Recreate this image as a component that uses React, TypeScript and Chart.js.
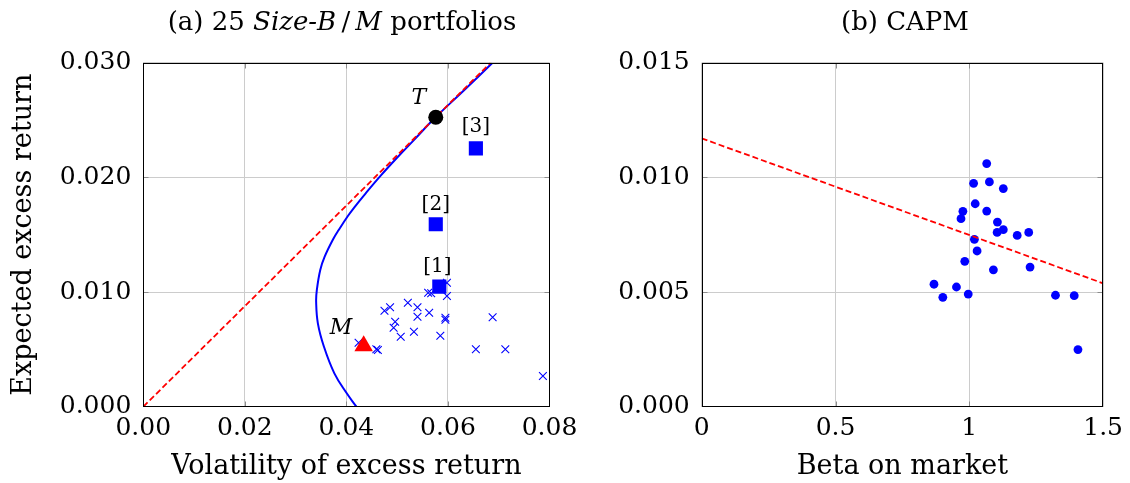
import React, { useEffect, useRef } from 'react';
import { Chart, registerables } from 'chart.js';

Chart.register(...registerables);

const FONT = '"DejaVu Serif", serif';

// ---------- Panel (a): 25 Size-B/M portfolios ----------
const portfolioVol = [0.0561, 0.0567, 0.0598, 0.0598, 0.0475, 0.0486, 0.0521, 0.0540, 0.0563, 0.0540, 0.0595, 0.0595, 0.0688, 0.0496, 0.0493, 0.0533, 0.0507, 0.0585, 0.0424, 0.0459, 0.0462, 0.0655, 0.0713, 0.0787, 0.0583];
const portfolioRet = [0.00994, 0.00989, 0.01081, 0.00965, 0.00837, 0.00867, 0.00907, 0.00867, 0.00820, 0.00785, 0.00776, 0.00759, 0.00780, 0.00741, 0.00689, 0.00654, 0.00610, 0.00619, 0.00558, 0.00501, 0.00494, 0.00501, 0.00501, 0.00268, 0.01047];

const highlightVol = [0.0583, 0.0576, 0.0655];
const highlightRet = [0.01047, 0.01591, 0.02253];
const highlightLabels = ['[1]', '[2]', '[3]'];

const tangencyVol = [0.0576];
const tangencyRet = [0.02524];
const tangencyLabel = 'T';

const marketVol = [0.0434];
const marketRet = [0.0053];
const marketLabel = 'M';

const frontierVol = [0.04197, 0.04007, 0.03763, 0.03558, 0.03438, 0.03404, 0.03418, 0.03485, 0.03572, 0.03749, 0.03848, 0.04029, 0.04153, 0.04380, 0.04684, 0.04997, 0.05324, 0.05756, 0.06312, 0.06868];
const frontierRet = [0.0, 0.00117, 0.00291, 0.00523, 0.00727, 0.00916, 0.01018, 0.01192, 0.01308, 0.01469, 0.01541, 0.01663, 0.01737, 0.01861, 0.02019, 0.02171, 0.02323, 0.02524, 0.02757, 0.02995];

const cmlVol = [0, 0.0684];
const cmlRet = [0, 0.030];

const volTicks = [0, 0.02, 0.04, 0.06, 0.08];
const volTickLabels = ['0.00', '0.02', '0.04', '0.06', '0.08'];
const retTicks = [0, 0.01, 0.02, 0.03];
const retTickLabels = ['0.000', '0.010', '0.020', '0.030'];

// ---------- Panel (b): CAPM ----------
const betaValues = [1.065, 1.016, 1.075, 1.127, 1.022, 1.065, 0.976, 0.969, 1.105, 1.104, 1.127, 1.179, 1.222, 1.019, 1.029, 0.983, 1.090, 1.227, 0.868, 0.952, 0.901, 0.996, 1.322, 1.392, 1.406];
const meanRet = [0.01060, 0.00974, 0.00980, 0.00951, 0.00885, 0.00853, 0.00852, 0.00820, 0.00805, 0.00760, 0.00772, 0.00747, 0.00760, 0.00730, 0.00679, 0.00634, 0.00597, 0.00609, 0.00534, 0.00522, 0.00477, 0.00491, 0.00486, 0.00484, 0.00249];

const smlBeta = [0, 1.5];
const smlRet = [0.0117, 0.00538];

const betaTicks = [0, 0.5, 1, 1.5];
const betaTickLabels = ['0', '0.5', '1', '1.5'];
const capmRetTicks = [0, 0.005, 0.01, 0.015];
const capmRetTickLabels = ['0.000', '0.005', '0.010', '0.015'];

const titleA = 'Volatility of excess return';
const titleY = 'Expected excess return';
const titleB = 'Beta on market';

// ---------- helpers ----------
const pts = (xs: number[], ys: number[]) => xs.map((x, i) => ({ x, y: ys[i] }));

function labelFor(ticks: number[], labels: string[]) {
  return (v: number) => {
    let best = 0;
    for (let i = 1; i < ticks.length; i++) {
      if (Math.abs(ticks[i] - v) < Math.abs(ticks[best] - v)) best = i;
    }
    return labels[best];
  };
}

function makeScale(
  min: number,
  max: number,
  ticks: number[],
  labels: string[],
  fixed: { width?: number; height?: number },
  tickPadding: number,
  title?: string,
  titlePadding?: { top: number; bottom: number }
) {
  const fmt = labelFor(ticks, labels);
  return {
    type: 'linear',
    min,
    max,
    afterBuildTicks: (s: any) => {
      s.ticks = ticks.map((v) => ({ value: v }));
    },
    afterFit: (s: any) => {
      if (fixed.width != null) s.width = fixed.width;
      if (fixed.height != null) s.height = fixed.height;
    },
    ticks: {
      callback: (v: number) => fmt(v),
      font: { family: FONT, size: 25 },
      color: '#000',
      padding: tickPadding,
      autoSkip: false,
      maxRotation: 0,
      minRotation: 0,
    },
    grid: { color: '#cccccc', lineWidth: 1, drawTicks: false },
    border: { display: false },
    title: title
      ? {
          display: true,
          text: title,
          font: { family: FONT, size: 27, lineHeight: 1.2 },
          color: '#000',
          padding: titlePadding || { top: 0, bottom: 0 },
        }
      : { display: false },
  };
}

type Lbl = { x: number; y: number; text: string; dx: number; dy: number; italic: boolean; size: number };

function overlayPlugin(labels: Lbl[]) {
  return {
    id: 'overlay',
    afterDraw(chart: any) {
      const { ctx, chartArea, scales } = chart;
      const l = Math.round(chartArea.left) + 0.5;
      const r = Math.round(chartArea.right) - 0.5;
      const t = Math.round(chartArea.top) + 0.5;
      const b = Math.round(chartArea.bottom) - 0.5;
      ctx.save();
      // tick marks (inside, on all four sides)
      ctx.strokeStyle = '#8c8c8c';
      ctx.lineWidth = 1;
      const xs = scales.x;
      const ys = scales.y;
      xs.ticks.forEach((tk: any) => {
        const p = Math.round(xs.getPixelForValue(tk.value)) + 0.5;
        if (p <= l + 1 || p >= r - 1) return;
        ctx.beginPath();
        ctx.moveTo(p, b);
        ctx.lineTo(p, b - 5);
        ctx.moveTo(p, t);
        ctx.lineTo(p, t + 5);
        ctx.stroke();
      });
      ys.ticks.forEach((tk: any) => {
        const p = Math.round(ys.getPixelForValue(tk.value)) + 0.5;
        if (p <= t + 1 || p >= b - 1) return;
        ctx.beginPath();
        ctx.moveTo(l, p);
        ctx.lineTo(l + 5, p);
        ctx.moveTo(r, p);
        ctx.lineTo(r - 5, p);
        ctx.stroke();
      });
      // frame
      ctx.strokeStyle = '#000';
      ctx.lineWidth = 1;
      ctx.strokeRect(l, t, r - l, b - t);
      // point labels
      ctx.fillStyle = '#000';
      ctx.textAlign = 'center';
      ctx.textBaseline = 'middle';
      labels.forEach((lb) => {
        ctx.font = `${lb.italic ? 'italic ' : ''}${lb.size}px ${FONT}`;
        const px = xs.getPixelForValue(lb.x) + lb.dx;
        const py = ys.getPixelForValue(lb.y) + lb.dy;
        ctx.fillText(lb.text, px, py);
      });
      ctx.restore();
    },
  };
}

export default function App() {
  const leftRef = useRef<HTMLCanvasElement | null>(null);
  const rightRef = useRef<HTMLCanvasElement | null>(null);

  useEffect(() => {
    const labelsA: Lbl[] = [
      { x: tangencyVol[0], y: tangencyRet[0], text: tangencyLabel, dx: -17, dy: -19, italic: true, size: 22 },
      { x: marketVol[0], y: marketRet[0], text: marketLabel, dx: -22.6, dy: -17.4, italic: true, size: 22 },
      ...highlightLabels.map((t, i) => ({
        x: highlightVol[i],
        y: highlightRet[i],
        text: t,
        dx: i === 0 ? -2 : 0,
        dy: i === 2 ? -21.6 : -19.5,
        italic: false,
        size: 20,
      })),
    ];

    const left = new Chart(leftRef.current as HTMLCanvasElement, {
      type: 'scatter',
      data: {
        datasets: [
          {
            data: pts(tangencyVol, tangencyRet),
            pointStyle: 'circle',
            pointRadius: 7.5,
            backgroundColor: '#000',
            borderColor: '#000',
            borderWidth: 0,
          },
          {
            data: pts(marketVol, marketRet),
            pointStyle: 'triangle',
            pointRadius: 10.7,
            backgroundColor: '#ff0000',
            borderColor: '#ff0000',
            borderWidth: 0,
          },
          {
            data: pts(highlightVol, highlightRet),
            pointStyle: 'rect',
            pointRadius: 10,
            backgroundColor: '#0000ff',
            borderColor: '#0000ff',
            borderWidth: 0,
          },
          {
            data: pts(portfolioVol, portfolioRet),
            pointStyle: 'crossRot',
            pointRadius: 5.5,
            backgroundColor: '#0000ff',
            borderColor: '#0000ff',
            borderWidth: 1.1,
          },
          {
            data: pts(cmlVol, cmlRet),
            showLine: true,
            pointRadius: 0,
            borderColor: '#ff0000',
            borderWidth: 1.8,
            borderDash: [6, 3],
            fill: false,
          },
          {
            data: pts(frontierVol, frontierRet),
            showLine: true,
            pointRadius: 0,
            borderColor: '#0000ff',
            borderWidth: 2,
            tension: 0.4,
            fill: false,
          },
        ],
      },
      options: {
        responsive: false,
        animation: false,
        events: [],
        layout: { autoPadding: false, padding: { left: 0, top: 62.7, right: 580.5, bottom: 0 } },
        plugins: { legend: { display: false }, tooltip: { enabled: false }, title: { display: false } },
        scales: {
          x: makeScale(0, 0.08, volTicks, volTickLabels, { height: 76.3 }, 7, titleA, { top: 0, bottom: 0 }) as any,
          y: makeScale(0, 0.03, retTicks, retTickLabels, { width: 143.3 }, 12, titleY, { top: 8, bottom: 0 }) as any,
        },
      },
      plugins: [overlayPlugin(labelsA)],
    } as any);

    const right = new Chart(rightRef.current as HTMLCanvasElement, {
      type: 'scatter',
      data: {
        datasets: [
          {
            data: pts(smlBeta, smlRet),
            showLine: true,
            pointRadius: 0,
            borderColor: '#ff0000',
            borderWidth: 1.8,
            borderDash: [6, 3],
            fill: false,
          },
          {
            data: pts(betaValues, meanRet),
            pointStyle: 'circle',
            pointRadius: 4.4,
            backgroundColor: '#0000ff',
            borderColor: '#0000ff',
            borderWidth: 0,
          },
        ],
      },
      options: {
        responsive: false,
        animation: false,
        events: [],
        layout: { autoPadding: false, padding: { left: 600, top: 62.7, right: 21.7, bottom: 0 } },
        plugins: { legend: { display: false }, tooltip: { enabled: false }, title: { display: false } },
        scales: {
          x: makeScale(0, 1.5, betaTicks, betaTickLabels, { height: 76.3 }, 7, titleB, { top: 0, bottom: 0 }) as any,
          y: makeScale(0, 0.015, capmRetTicks, capmRetTickLabels, { width: 101.7 }, 12) as any,
        },
      },
      plugins: [overlayPlugin([])],
    } as any);

    return () => {
      left.destroy();
      right.destroy();
    };
  }, []);

  const titleStyle: React.CSSProperties = {
    position: 'absolute',
    top: 6,
    width: 600,
    textAlign: 'center',
    fontFamily: FONT,
    fontSize: 26,
    lineHeight: '30px',
    whiteSpace: 'nowrap',
    color: '#000',
  };

  return (
    <div style={{ position: 'absolute', left: 0, top: 0, width: 1130, height: 483, background: '#fff', overflow: 'hidden' }}>
      <canvas ref={leftRef} width={1130} height={483} style={{ position: 'absolute', left: 0, top: 0, width: 1130, height: 483 }} />
      <canvas ref={rightRef} width={1130} height={483} style={{ position: 'absolute', left: 0, top: 0, width: 1130, height: 483 }} />
      <div style={{ ...titleStyle, left: 342 - 300 }}>
        (a) 25 <i>Size-B</i>{'\u2009/\u2009'}<i>M</i> portfolios
      </div>
      <div style={{ ...titleStyle, left: 905 - 300 }}>(b) CAPM</div>
    </div>
  );
}
